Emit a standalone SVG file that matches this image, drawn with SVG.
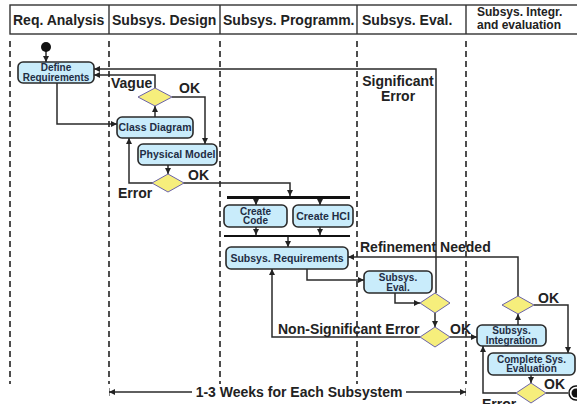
<svg xmlns="http://www.w3.org/2000/svg" width="577" height="404" viewBox="0 0 577 404">
<defs>
<style>
.hdr{font-family:"Liberation Sans",Arial,sans-serif;font-weight:bold;font-size:14px;fill:#222}
.hdr2{font-family:"Liberation Sans",Arial,sans-serif;font-weight:bold;font-size:12px;fill:#222}
.box{fill:#c9ecfb;stroke:#2a2a2a;stroke-width:1.6}
.bt{font-family:"Liberation Sans",Arial,sans-serif;font-weight:bold;font-size:10.5px;fill:#1f2d44;text-anchor:middle}
.bt2{font-family:"Liberation Sans",Arial,sans-serif;font-weight:bold;font-size:10px;fill:#1f2d44;text-anchor:middle}
.dia{fill:#f6ee7c;stroke:#6b63a8;stroke-width:1}
.lbl{font-family:"Liberation Sans",Arial,sans-serif;font-weight:bold;font-size:14px;fill:#222}
.lane{stroke:#222;stroke-width:1.6;stroke-dasharray:6,4}
.cn{fill:none;stroke:#2a2a2a;stroke-width:1.5}
</style>
<marker id="ar" markerWidth="6" markerHeight="6" refX="6" refY="3" orient="auto" markerUnits="userSpaceOnUse"><path d="M0,0 L6,3 L0,6 z" fill="#222"/></marker>
<marker id="dim" markerWidth="6" markerHeight="8" refX="6" refY="4" orient="auto" markerUnits="userSpaceOnUse"><path d="M0,1 L6,4 L0,7 z M5.5,0 H6.5 V8 H5.5 z" fill="#222"/></marker>
</defs>
<g id="header">
<rect x="10" y="5" width="580" height="29" fill="#fff" stroke="#333" stroke-width="1.4"/>
<line x1="109" y1="5" x2="109" y2="34" stroke="#333" stroke-width="1.4"/>
<line x1="220" y1="5" x2="220" y2="34" stroke="#333" stroke-width="1.4"/>
<line x1="357" y1="5" x2="357" y2="34" stroke="#333" stroke-width="1.4"/>
<line x1="466" y1="5" x2="466" y2="34" stroke="#333" stroke-width="1.4"/>
<text class="hdr" x="13" y="25">Req. Analysis</text>
<text class="hdr" x="112" y="25">Subsys. Design</text>
<text class="hdr" x="223" y="25">Subsys. Programm.</text>
<text class="hdr" x="362" y="25">Subsys. Eval.</text>
<text class="hdr2" x="477" y="16">Subsys. Integr.</text>
<text class="hdr2" x="477" y="29">and evaluation</text>
</g>
<g id="lanes">
<line class="lane" x1="10" y1="41" x2="10" y2="384"/>
<line class="lane" x1="109" y1="41" x2="109" y2="384"/>
<line class="lane" x1="220" y1="41" x2="220" y2="384"/>
<line class="lane" x1="357" y1="41" x2="357" y2="384"/>
<line class="lane" x1="466" y1="41" x2="466" y2="384"/>
</g>
<g id="connectors">
<path class="cn" d="M46,47 V62" marker-end="url(#ar)"/>
<path class="cn" d="M436,293 V69 H94" marker-end="url(#ar)"/>
<path class="cn" d="M155,88 V75 H94" marker-end="url(#ar)"/>
<path class="cn" d="M172,97 H205 V144" marker-end="url(#ar)"/>
<path class="cn" d="M57,83 V124 H117" marker-end="url(#ar)"/>
<path class="cn" d="M155,117 V106" marker-end="url(#ar)"/>
<path class="cn" d="M168,165 V174" marker-end="url(#ar)"/>
<path class="cn" d="M153,183 H129 V138" marker-end="url(#ar)"/>
<path class="cn" d="M183,183 H290 V196" marker-end="url(#ar)"/>
<path class="cn" d="M256,198 V205" marker-end="url(#ar)"/>
<path class="cn" d="M320,198 V205" marker-end="url(#ar)"/>
<path class="cn" d="M256,227 V235" marker-end="url(#ar)"/>
<path class="cn" d="M320,227 V235" marker-end="url(#ar)"/>
<path class="cn" d="M288,237 V247" marker-end="url(#ar)"/>
<path class="cn" d="M307,269 V280 H364" marker-end="url(#ar)"/>
<path class="cn" d="M395,293 V303 H420" marker-end="url(#ar)"/>
<path class="cn" d="M435,313 V327" marker-end="url(#ar)"/>
<path class="cn" d="M420,337 H272 V269" marker-end="url(#ar)"/>
<path class="cn" d="M450,337 H477" marker-end="url(#ar)"/>
<path class="cn" d="M518,326 V314" marker-end="url(#ar)"/>
<path class="cn" d="M518,296 V257 H348" marker-end="url(#ar)"/>
<path class="cn" d="M534,305 H568 V353" marker-end="url(#ar)"/>
<path class="cn" d="M531,375 V383" marker-end="url(#ar)"/>
<path class="cn" d="M516,393 H483 V346" marker-end="url(#ar)"/>
<path class="cn" d="M546,393 H568"/>
<path class="cn" d="M192,392 H109" marker-end="url(#dim)"/>
<path class="cn" d="M406,392 H466" marker-end="url(#dim)"/>
</g>
<g id="start"><circle cx="46" cy="47" r="5" fill="#111"/></g>
<g id="define-requirements">
<rect class="box" x="18" y="62" width="76" height="21" rx="5"/>
<text class="bt2" x="56" y="71">Define</text>
<text class="bt2" x="56" y="80.5">Requirements</text>
</g>
<g id="vague-decision"><polygon class="dia" points="155,88 172,97 155,106 138,97"/></g>
<g id="class-diagram">
<rect class="box" x="117" y="117" width="76" height="21" rx="5"/>
<text class="bt" x="155" y="131">Class Diagram</text>
</g>
<g id="physical-model">
<rect class="box" x="138" y="144" width="79" height="21" rx="5"/>
<text class="bt" x="177.5" y="158">Physical Model</text>
</g>
<g id="model-decision"><polygon class="dia" points="168,174 184,183 168,192 152,183"/></g>
<g id="fork"><rect x="227" y="196" width="123" height="3" fill="#111"/></g>
<g id="create-code">
<rect class="box" x="224" y="205" width="63" height="22" rx="5"/>
<text class="bt2" x="255.5" y="214.5">Create</text>
<text class="bt2" x="255.5" y="224">Code</text>
</g>
<g id="create-hci">
<rect class="box" x="293" y="205" width="60" height="22" rx="5"/>
<text class="bt" x="323" y="219.5">Create HCI</text>
</g>
<g id="join"><rect x="224" y="235" width="126" height="2" fill="#111"/></g>
<g id="subsys-requirements">
<rect class="box" x="226" y="247" width="122" height="22" rx="5"/>
<text class="bt" x="287" y="261.5">Subsys. Requirements</text>
</g>
<g id="subsys-eval">
<rect class="box" x="364" y="271" width="68" height="22" rx="5"/>
<text class="bt2" x="398" y="281">Subsys.</text>
<text class="bt2" x="398" y="291">Eval.</text>
</g>
<g id="eval-decision"><polygon class="dia" points="435,293 450,303 435,313 420,303"/></g>
<g id="error-decision"><polygon class="dia" points="435,327 450,337 435,347 420,337"/></g>
<g id="subsys-integration">
<rect class="box" x="477" y="325" width="69" height="21" rx="5"/>
<text class="bt2" x="511.5" y="334">Subsys.</text>
<text class="bt2" x="511.5" y="344">Integration</text>
</g>
<g id="integration-decision"><polygon class="dia" points="518,296 534,305 518,314 502,305"/></g>
<g id="complete-evaluation">
<rect class="box" x="488" y="353" width="87" height="22" rx="5"/>
<text class="bt2" x="531.5" y="362.5">Complete Sys.</text>
<text class="bt2" x="531.5" y="372">Evaluation</text>
</g>
<g id="final-decision"><polygon class="dia" points="531,383 546,393 531,403 516,393"/></g>
<g id="end">
<circle cx="576" cy="393" r="7" fill="#fff" stroke="#111" stroke-width="1.5"/>
<circle cx="576" cy="393" r="4.5" fill="#111"/>
</g>
<g id="labels">
<text class="lbl" x="111" y="88">Vague</text>
<text class="lbl" x="179" y="93">OK</text>
<text class="lbl" x="118" y="198">Error</text>
<text class="lbl" x="188" y="180">OK</text>
<text class="lbl" x="398" y="86" text-anchor="middle">Significant</text>
<text class="lbl" x="398" y="101" text-anchor="middle">Error</text>
<text class="lbl" x="360" y="252">Refinement Needed</text>
<text class="lbl" x="278" y="334">Non-Significant Error</text>
<text class="lbl" x="450" y="334">OK</text>
<text class="lbl" x="538" y="303">OK</text>
<text class="lbl" x="544" y="389">OK</text>
<text class="lbl" x="482" y="409">Error</text>
<text class="lbl" x="299" y="397" text-anchor="middle">1-3 Weeks for Each Subsystem</text>
</g>
</svg>
